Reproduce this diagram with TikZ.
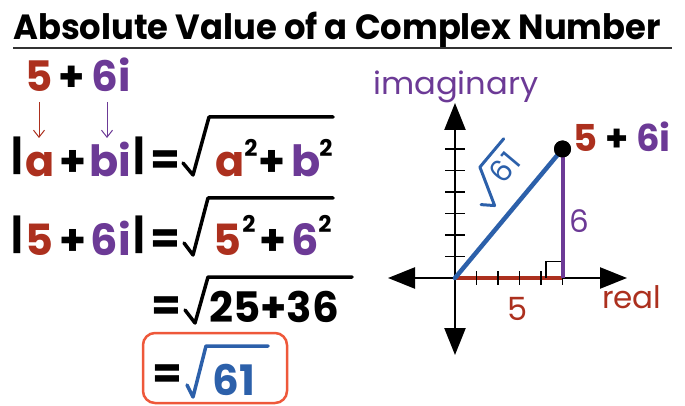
\documentclass[tikz,border=0pt]{standalone}
\usepackage{fontspec}
\setmainfont{Poppins}
\usetikzlibrary{arrows.meta}
\definecolor{cred}{RGB}{172,48,30}
\definecolor{cpur}{RGB}{108,58,150}
\definecolor{cblue}{RGB}{44,96,170}
\definecolor{cbox}{RGB}{238,88,58}
\begin{document}
\begin{tikzpicture}[x=1pt,y=-1pt,
  tx/.style={inner sep=0pt, anchor=base},
  big/.style={tx, font=\fontsize{43}{43}\selectfont\bfseries},
  bar/.style={tx, font=\fontsize{40}{40}\selectfont\bfseries},
  mid/.style={tx, font=\fontsize{42}{42}\selectfont\bfseries},
  sup/.style={tx, font=\fontsize{23}{23}\selectfont\bfseries},
  rad/.style={line width=3.5pt, line join=round, line cap=round},
  axis/.style={line width=2.5pt, {Triangle[length=27pt,width=21pt]}-{Triangle[length=27pt,width=21pt]}},
  tick/.style={line width=1.6pt},
  pick/.style={line width=1pt, -{Straight Barb[length=7pt,width=11pt]}}
]
\useasboundingbox (0,0) rectangle (685,406);
% title
\node[tx, anchor=base west, font=\fontsize{35}{35}\selectfont\bfseries] (title) at (13,40) {\scalebox{0.965}[1]{Absolute Value of a Complex Number}};
\draw[line width=2pt, black!80] (13,48) -- (672,48);
% line 1
\node[mid, text=cred] (n5) at (39,92) {5};
\node[mid] (p1) at (72,92) {+};
\node[mid, text=cpur] (n6i) at (111,92) {6i};
% line 2
\node[bar] (b1) at (17,170) {|};
\node[big, text=cred] (a) at (40,177) {a};
\node[big] (p2) at (73,177) {+};
\node[big, text=cpur] (bi) at (110,177) {bi};
\node[bar] (b2) at (139,170) {|};
\node[big] (e2) at (165,175) {=};
\draw[rad] (183,163) -- (193,175) -- (209,117) -- (333,117);
\node[big, text=cred] (a2) at (230,177) {a};
\node[sup] (s1) at (251,157) {2};
\node[big] (p3) at (272,177) {+};
\node[big, text=cpur] (b3) at (306,177) {b};
\node[sup] (s2) at (326,157) {2};
\draw[pick, cred] (39,102) -- (39,138);
\draw[pick, cpur] (107,102) -- (107,138);
% line 3
\node[bar] (c1) at (17,248) {|};
\node[big, text=cred] (c5) at (39,255) {5};
\node[big] (c2) at (73,255) {+};
\node[big, text=cpur] (c6i) at (111,255) {6i};
\node[bar] (c3) at (139,248) {|};
\node[big] (c4) at (165,253) {=};
\draw[rad] (184,243) -- (193,255) -- (208,198) -- (333,198);
\node[big, text=cred] (c7) at (227,255) {5};
\node[sup] (c8) at (249,233) {2};
\node[big] (c9) at (273,255) {+};
\node[big, text=cpur] (c10) at (305,255) {6};
\node[sup] (c11) at (325,233) {2};
% line 4
\node[big] (d1) at (166,320) {=};
\draw[rad] (185,310) -- (195,323) -- (208,277) -- (352,277);
\node[mid] (d2) at (274,322) {25+36};
% line 5
\draw[cbox, line width=2.5pt, rounded corners=12pt] (143,333) rectangle (287,403);
\node[big] (e1) at (167,388) {=};
\draw[rad, cblue] (187,385) -- (193,397) -- (206,346) -- (268,346);
\node[mid, text=cblue] (e61) at (234,395) {61};
% graph
\coordinate (O) at (455,278);
\coordinate (F) at (562.5,278);
\draw[axis] (388,278) -- (627,278);
\draw[axis] (455,103) -- (455,355);
\foreach \k in {1,...,6} \draw[tick] (445,278-\k*21.5) -- (465,278-\k*21.5);
\draw[cred, line width=4.5pt] (O) -- (F);
\foreach \k in {1,...,5} \draw[tick] (455+\k*21.5,271) -- (455+\k*21.5,285);
\draw[line width=1.2pt] (546,278) -- (546,261.5) -- (562.5,261.5);
\node[circle, fill=black, minimum size=17pt, inner sep=0pt] (P) at (562.5,149) {};
\draw[cpur, line width=4pt] (F) -- (P.center);
\draw[cblue, line width=4.5pt, line cap=round] (O) -- (P.center);
\node[circle, fill=black, minimum size=17pt, inner sep=0pt] at (P) {};
\begin{scope}[shift={(496.6,228.1)}, rotate=50]
  \draw[rad, cblue, line width=3pt] (8,-27) -- (16,-16) -- (36,-52) -- (73,-52);
  \node[tx, text=cblue, transform shape, font=\fontsize{30}{30}\selectfont] (r61) at (52,-22) {61};
\end{scope}
\node[tx, text=cpur, font=\fontsize{31}{31}\selectfont] (lab6) at (579,233) {6};
\node[tx, text=cred, font=\fontsize{32}{32}\selectfont] (lab5) at (518,320) {5};
\node[tx, anchor=base west, text=cpur, font=\fontsize{31}{31}\selectfont] (im) at (373,95) {\scalebox{1.04}[1]{imaginary}};
\node[tx, anchor=base west, text=cred, font=\fontsize{31}{31}\selectfont] (re) at (602,308) {real};
\node[tx, anchor=base west, font=\fontsize{37}{37}\selectfont\bfseries] (pl) at (573,152) {\textcolor{cred}{5} + \textcolor{cpur}{6i}};
\end{tikzpicture}
\end{document}
